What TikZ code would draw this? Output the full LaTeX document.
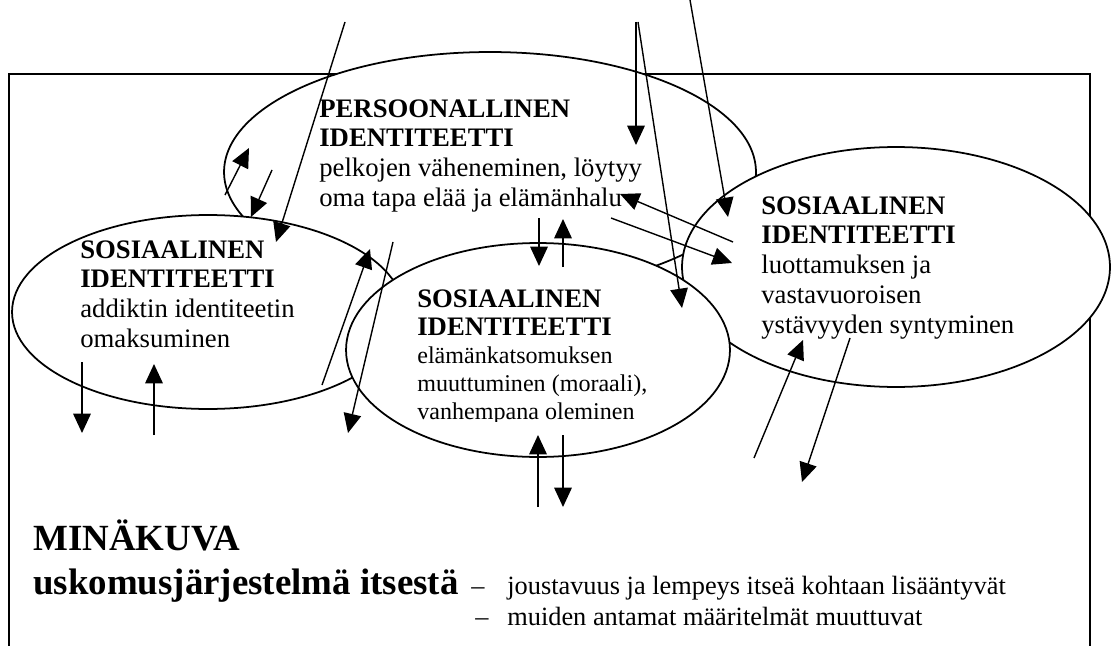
\documentclass[tikz,border=0pt]{standalone}
\usepackage{fontspec}
\setmainfont{Liberation Serif}
\usetikzlibrary{shapes.geometric,arrows.meta}
\tikzset{
  blob/.style={ellipse, draw, fill=white, line width=1pt, inner sep=0pt, outer sep=0pt},
  txt/.style={anchor=north west, align=left, inner sep=0pt, font=\fontsize{15.2}{17}\selectfont},
  big/.style={anchor=base west, inner sep=0pt, font=\bfseries\fontsize{21}{24}\selectfont},
  note/.style={anchor=base west, inner sep=0pt, font=\fontsize{15}{17}\selectfont},
  arr/.style={-{Triangle[length=11pt,width=10pt]}, line width=0.8pt},
}
\begin{document}
\begin{tikzpicture}[x=0.02cm, y=-0.02cm, black]
  \useasboundingbox (0,0) rectangle (1111,645);
  \clip (0,0) rectangle (1111,645);
  % frame, its lower edge is below the page
  \draw[line width=1.3pt] (9,74) rectangle (1090,700);
  % the four identities
  \node[blob, minimum width=10.64cm, minimum height=4.8cm] (P) at (490,172) {};
  \node[blob, minimum width=7.84cm, minimum height=3.88cm] (L) at (208,312) {};
  \node[blob, minimum width=8.56cm, minimum height=4.8cm] (R) at (896,267) {};
  \node[blob, minimum width=7.68cm, minimum height=4.28cm] (M) at (538,350) {};
  \node[txt] (Ptxt) at (319,99) {\textbf{PERSOONALLINEN}\\\textbf{IDENTITEETTI}\\pelkojen väheneminen, löytyy\\oma tapa elää ja elämänhalu};
  \node[txt] (Ltxt) at (80,240) {\textbf{SOSIAALINEN}\\\textbf{IDENTITEETTI}\\addiktin identiteetin\\omaksuminen};
  \node[txt] (Rtxt) at (761,196) {\textbf{SOSIAALINEN}\\\textbf{IDENTITEETTI}\\luottamuksen ja\\vastavuoroisen\\ystävyyden syntyminen};
  \begin{scope}
    \clip (400,280) rectangle (720,421);
    \node[txt, font=\fontsize{15.2}{16}\selectfont] (Mtxt) at (417,289) {\textbf{SOSIAALINEN}\\\textbf{IDENTITEETTI}\\{\fontsize{13.7}{16}\selectfont elämänkatsomuksen}\\{\fontsize{13.7}{16}\selectfont muuttuminen (moraali),}\\{\fontsize{13.7}{16}\selectfont vanhempana oleminen}};
  \end{scope}
  % self image
  \node[big] (mk) at (33,550) {MINÄKUVA};
  \node[big] (usk) at (33,594) {uskomusjärjestelmä itsestä};
  \node[note] (d1) at (471,594) {–};
  \node[note] (n1) at (507,594) {joustavuus ja lempeys itseä kohtaan lisääntyvät};
  \node[note] (d2) at (475,625) {–};
  \node[note] (n2) at (507,625) {muiden antamat määritelmät muuttuvat};
  % arrow ends
  \coordinate (s1) at (345,22);  \coordinate (e1) at (276,242);
  \coordinate (s2) at (636,22);  \coordinate (e2) at (636,145);
  \coordinate (s3) at (638,22);  \coordinate (e3) at (682,308);
  \coordinate (s4) at (690,0);   \coordinate (e4) at (728,217);
  \coordinate (s5) at (733,242); \coordinate (e5) at (620,194);
  \coordinate (s6) at (611,218); \coordinate (e6) at (732,263);
  \coordinate (s7) at (539,218); \coordinate (e7) at (539,266);
  \coordinate (s8) at (563,267); \coordinate (e8) at (563,219);
  \coordinate (s9) at (225,195); \coordinate (e9) at (249,148);
  \coordinate (s10) at (272,170); \coordinate (e10) at (251,217);
  \coordinate (s11) at (322,385); \coordinate (e11) at (370,249);
  \coordinate (s12) at (393,242); \coordinate (e12) at (348,433);
  \coordinate (s13) at (82,362);  \coordinate (e13) at (82,433);
  \coordinate (s14) at (154,435); \coordinate (e14) at (154,364);
  \coordinate (s15) at (538,507); \coordinate (e15) at (538,435);
  \coordinate (s16) at (563,435); \coordinate (e16) at (563,507);
  \coordinate (s17) at (754,458); \coordinate (e17) at (803,340);
  \coordinate (s18) at (850,338); \coordinate (e18) at (802,482);
  \foreach \i in {1,...,18}
    \draw[arr] (s\i) -- (e\i);
\end{tikzpicture}
\end{document}
